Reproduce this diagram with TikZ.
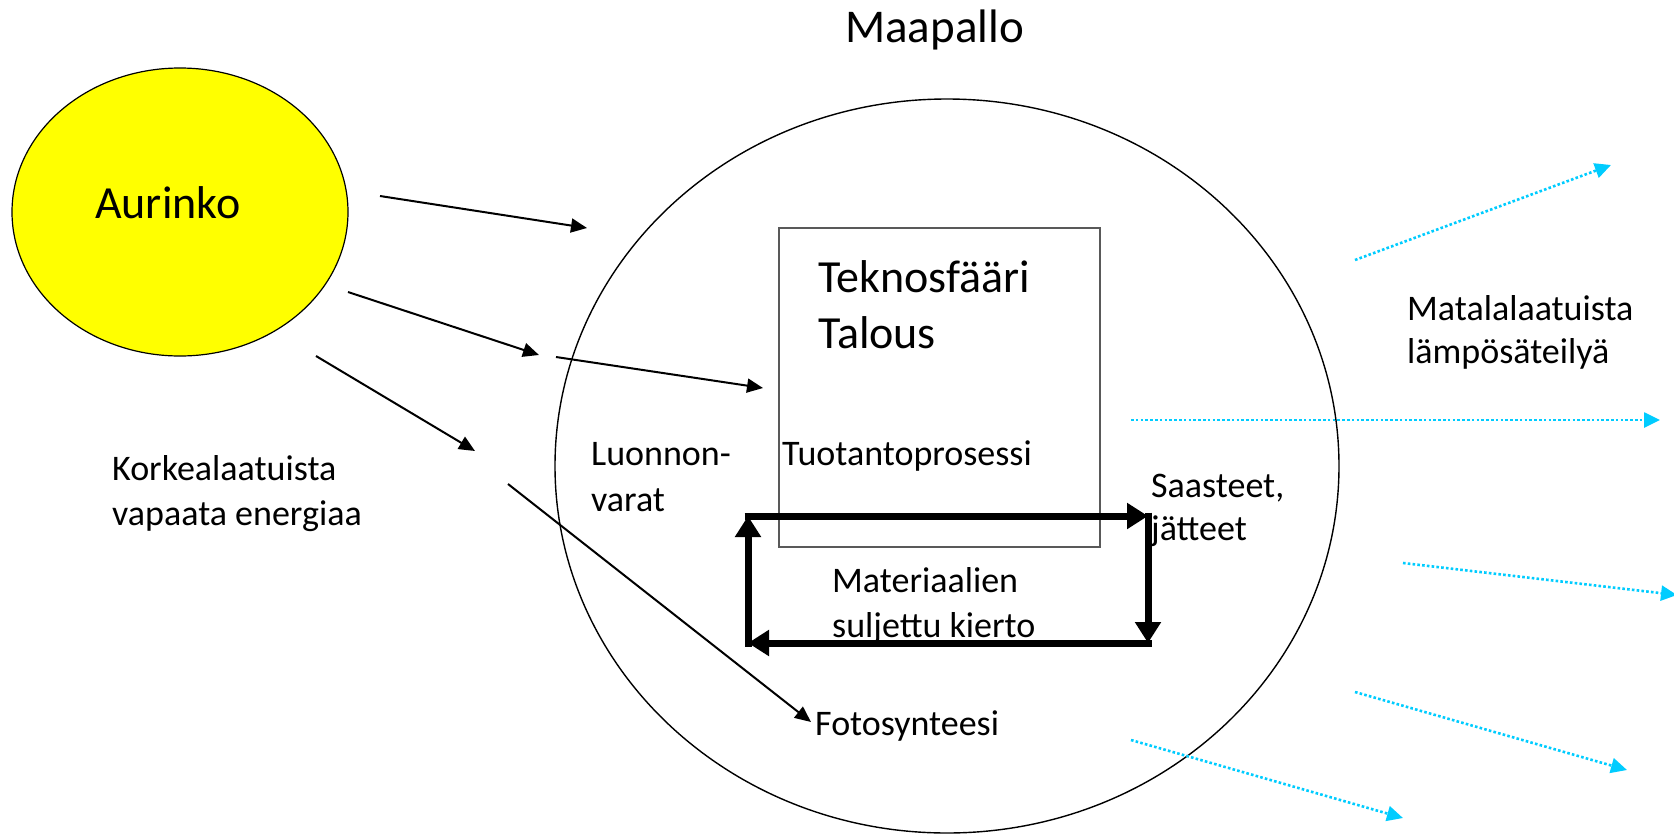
\documentclass[tikz,border=0pt]{standalone}
\usepackage{fontspec}
\setmainfont{Carlito}
\usetikzlibrary{arrows.meta,shapes.geometric}
\definecolor{skyline}{RGB}{0,204,255}
\definecolor{boxgray}{RGB}{89,89,89}
\definecolor{sunyellow}{RGB}{255,255,0}
\tikzset{
  lbl/.style={inner sep=0pt, anchor=base west, font=\fontsize{36}{44}\selectfont},
  biglbl/.style={inner sep=0pt, anchor=base west, font=\fontsize{46}{56}\selectfont},
  sunray/.style={line width=2pt, -{Triangle[length=16pt,width=14pt]}},
  loopline/.style={line width=7pt, -{Triangle[length=21pt,width=25pt]}},
  heatray/.style={skyline, line width=2.6pt, dash pattern=on 2.6pt off 2.2pt, -{Triangle[length=16pt,width=15pt]}}
}
\begin{document}
\begin{tikzpicture}[x=1pt,y=-1pt]
\useasboundingbox (0,0) rectangle (1674,836);
% Sun
\node[ellipse, draw=black, line width=1.2pt, fill=sunyellow, minimum width=336pt, minimum height=288pt, inner sep=0pt] (sun) at (180,212) {};
\node[biglbl] (aurinko) at (95,218) {Aurinko};
% Earth
\node[ellipse, draw=black, line width=1.4pt, minimum width=784pt, minimum height=734pt, inner sep=0pt] (earth) at (947,466) {};
\node[biglbl, font=\fontsize{47}{56}\selectfont] (maapallo) at (845,42) {Maapallo};
% Technosphere box
\node[rectangle, draw=boxgray, line width=1.5pt, minimum width=321pt, minimum height=319pt, inner sep=0pt] (tekno) at (939.5,387.5) {};
\node[biglbl] (teknosfaari) at (818,292) {Teknosfääri};
\node[biglbl] (talous) at (818,348) {Talous};
\node[lbl] (tuotanto) at (782,465) {Tuotantoprosessi};
\node[lbl] (luonnon1) at (591,465) {Luonnon-};
\node[lbl] (luonnon2) at (591,511) {varat};
\node[lbl] (korkea1) at (112,480) {Korkealaatuista};
\node[lbl] (korkea2) at (112,525) {vapaata energiaa};
\node[lbl] (saasteet1) at (1151,497) {Saasteet,};
\node[lbl] (saasteet2) at (1151,540) {jätteet};
\node[lbl] (mat1) at (832,592) {Materiaalien};
\node[lbl] (mat2) at (832,637) {suljettu kierto};
\node[lbl] (foto) at (815,735) {Fotosynteesi};
\node[lbl] (matala1) at (1407,320) {Matalalaatuista};
\node[lbl] (matala2) at (1407,363) {lämpösäteilyä};
% sun rays
\coordinate (r1s) at (380,196); \coordinate (r1e) at (587,228);
\coordinate (r2s) at (348,292); \coordinate (r2e) at (539,355);
\coordinate (r3s) at (316,356); \coordinate (r3e) at (475,451);
\coordinate (r4s) at (556,357); \coordinate (r4e) at (763,388);
\coordinate (r5s) at (508,484); \coordinate (r5e) at (811,722);
\draw[sunray] (r1s) -- (r1e);
\draw[sunray] (r2s) -- (r2e);
\draw[sunray] (r3s) -- (r3e);
\draw[sunray] (r4s) -- (r4e);
\draw[sunray] (r5s) -- (r5e);
% closed material loop
\coordinate (tl) at (748,516);
\coordinate (tr) at (1148,516);
\coordinate (br) at (1148,643);
\coordinate (bl) at (748,643);
\draw[loopline] ([xshift=-3.5pt]tl) -- (tr);
\draw[loopline] ([yshift=3.5pt]tr) -- (br);
\draw[loopline] ([xshift=3.5pt]br) -- (bl);
\draw[loopline] ([yshift=-3.5pt]bl) -- (tl);
% heat radiation
\coordinate (h1s) at (1355,260); \coordinate (h1e) at (1611,165);
\coordinate (h2s) at (1131,420); \coordinate (h2e) at (1660,420);
\coordinate (h3s) at (1403,563); \coordinate (h3e) at (1677,595);
\coordinate (h4s) at (1355,692); \coordinate (h4e) at (1627,770);
\coordinate (h5s) at (1131,740); \coordinate (h5e) at (1403,818);
\draw[heatray] (h1s) -- (h1e);
\draw[heatray] (h2s) -- (h2e);
\draw[heatray] (h3s) -- (h3e);
\draw[heatray] (h4s) -- (h4e);
\draw[heatray] (h5s) -- (h5e);
\end{tikzpicture}
\end{document}
